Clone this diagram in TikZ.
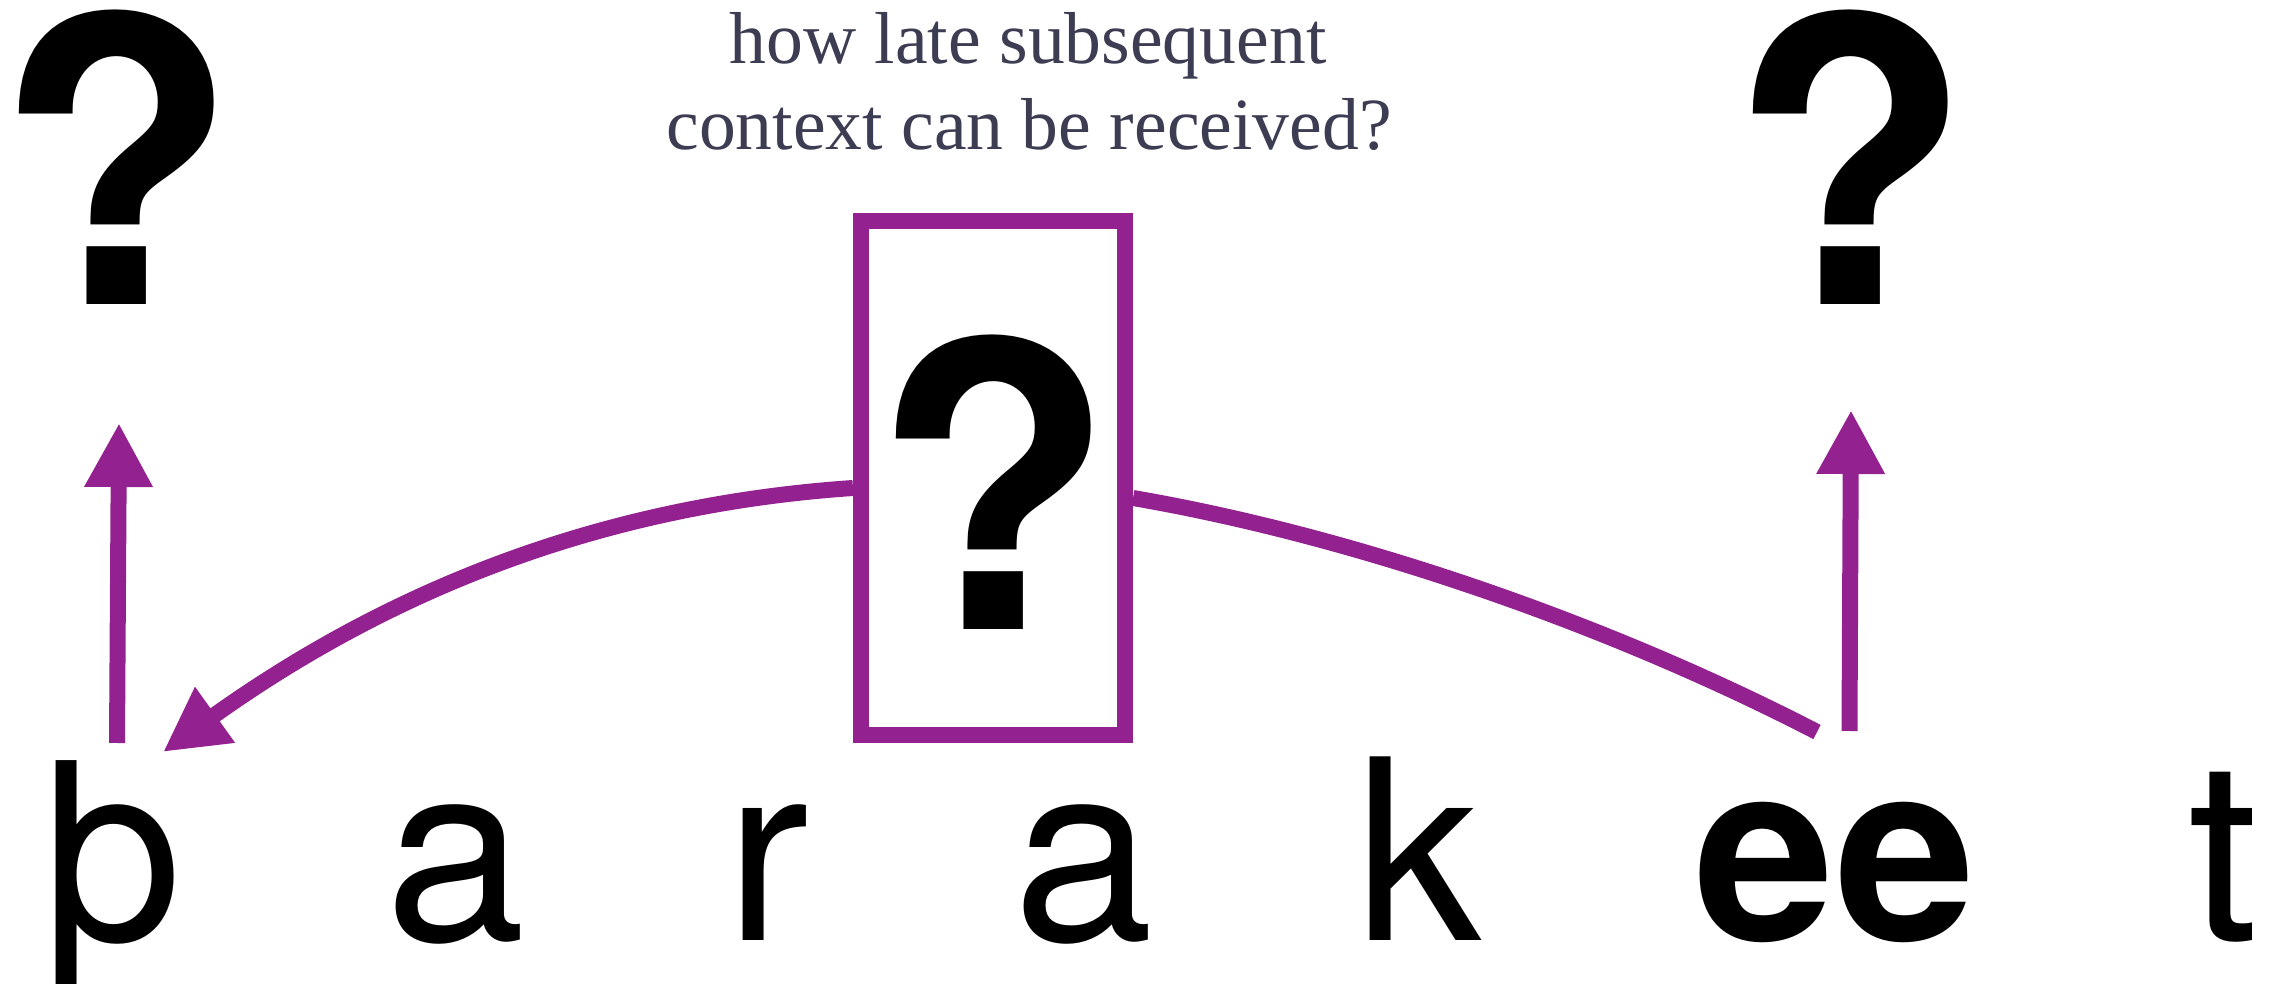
\documentclass[tikz,border=0pt]{standalone}
\usepackage{fontspec}
\setmainfont{TeX Gyre Heros}
\newfontfamily\capfont{Liberation Serif}
\usetikzlibrary{arrows.meta}
\definecolor{plum}{HTML}{93218F}
\definecolor{slate}{HTML}{3C3C52}
\tikzset{
  letter/.style={anchor=base, inner sep=0pt, font=\fontsize{63}{63}\selectfont},
  boldletter/.style={anchor=base, inner sep=0pt, font=\fontsize{63}{63}\selectfont\bfseries},
  qmark/.style={anchor=base, inner sep=0pt, font=\fontsize{99}{99}\selectfont\bfseries},
  caption/.style={anchor=base, inner sep=0pt, text=slate, font=\capfont\fontsize{18.4}{18.4}\selectfont},
  link/.style={draw=plum, line width=4pt},
  arr/.style={link, -{Triangle[length=16pt,width=16pt]}},
  ctxbox/.style={draw=plum, line width=4pt, fill=white, minimum width=66pt, minimum height=128.5pt, inner sep=0pt},
}
\begin{document}
\begin{tikzpicture}[x=0.25pt,y=-0.25pt]
\useasboundingbox (0,0) rectangle (2274,984);
% caption
\node[caption] (t1) at (1028,64) {how late subsequent};
\node[caption] (t2) at (1029,150) {context can be received?};
% letters
\node[letter] (p) at (113,940) {þ};
\node[letter] (a1) at (456,940) {a};
\node[letter] (r) at (767,940) {r};
\node[letter] (a2) at (1083.5,940) {a};
\node[letter] (k) at (1418,940) {k};
\node[boldletter] (ee) at (1835,940) {ee};
\node[letter] (t) at (2224,940) {t};
% question marks
\node[qmark] (q1) at (116,305) {?};
\node[qmark] (q3) at (1850,305) {?};
% vertical arrows
\coordinate (pA) at (117,743);
\coordinate (pB) at (119,423);
\coordinate (eA) at (1849.5,731);
\coordinate (eB) at (1851,410);
\draw[arr] (pA) -- (pB);
\draw[arr] (eA) -- (eB);
% box
\node[ctxbox] (box) at (993,478) {};
\node[qmark] (q2) at (993.5,629) {?};
% curves
\coordinate (tipL) at (163,752);
\coordinate (endR) at (1817,732);
\draw[arr] ([yshift=-2.5pt]box.west) .. controls +(-250,17) and +(228,-163) .. (tipL);
\draw[link] ([yshift=-5pt]box.east) .. controls +(226.5,39) and +(-204.7,-105.8) .. (endR);
\end{tikzpicture}
\end{document}
